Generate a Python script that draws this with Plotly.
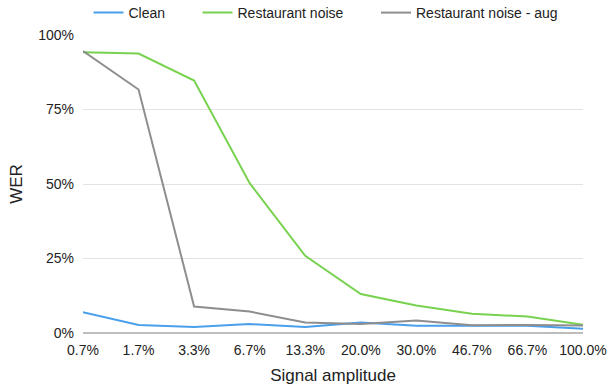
import plotly.graph_objects as go

amplitude = ["0.7%", "1.7%", "3.3%", "6.7%", "13.3%", "20.0%", "30.0%", "46.7%", "66.7%", "100.0%"]
wer_clean = [7.0, 2.7, 2.0, 3.0, 2.0, 3.5, 2.4, 2.3, 2.4, 1.4]
wer_restaurant = [94.2, 93.8, 84.7, 50.3, 25.9, 13.1, 9.2, 6.5, 5.5, 2.8]
wer_restaurant_aug = [94.6, 81.7, 8.9, 7.2, 3.5, 3.0, 4.2, 2.6, 2.7, 2.5]

series = [
    ("Clean", wer_clean, "#4A9FEB"),
    ("Restaurant noise", wer_restaurant, "#78D24F"),
    ("Restaurant noise - aug", wer_restaurant_aug, "#8E8E8E"),
]
# one legend per series so each entry can sit at its own spot along the top
legend_ids = ["legend", "legend2", "legend3"]
legend_x = [0.011, 0.229, 0.586]

font_family = "Liberation Sans, Arial, sans-serif"
text_color = "#222222"

fig = go.Figure()
for (name, values, color), lid in zip(series, legend_ids):
    fig.add_trace(go.Scatter(
        x=amplitude, y=values, name=name, mode="lines",
        line=dict(color=color, width=2), legend=lid,
    ))

legend_common = dict(
    orientation="h", xanchor="left", yref="container", y=1 - 13 / 387,
    yanchor="middle", font=dict(size=14, color=text_color),
    bgcolor="rgba(0,0,0,0)", borderwidth=0,
)

fig.update_layout(
    width=611, height=387,
    margin=dict(l=83, r=28, t=35, b=54, autoexpand=False),
    paper_bgcolor="white", plot_bgcolor="white",
    font=dict(family=font_family, size=14, color=text_color),
    showlegend=True,
    legend=dict(x=legend_x[0], **legend_common),
    legend2=dict(x=legend_x[1], **legend_common),
    legend3=dict(x=legend_x[2], **legend_common),
)

fig.update_xaxes(
    type="category", range=[0, len(amplitude) - 1],
    showgrid=False, showline=False, zeroline=False,
    ticks="", ticklabelstandoff=7, tickfont=dict(size=14, color=text_color),
    title=dict(text="Signal amplitude", font=dict(size=17, color=text_color), standoff=12),
)
fig.update_yaxes(
    range=[0, 100], tickvals=[0, 25, 50, 75, 100],
    ticktext=["0%", "25%", "50%", "75%", "100%"],
    showgrid=True, gridcolor="#E3E3E3", gridwidth=1,
    zeroline=True, zerolinecolor="#BDBDBD", zerolinewidth=1.5,
    showline=False, ticks="", ticklabelstandoff=8,
    tickfont=dict(size=14, color=text_color),
    title=dict(text="WER", font=dict(size=17, color=text_color), standoff=11),
)

fig.write_html("out.html")
